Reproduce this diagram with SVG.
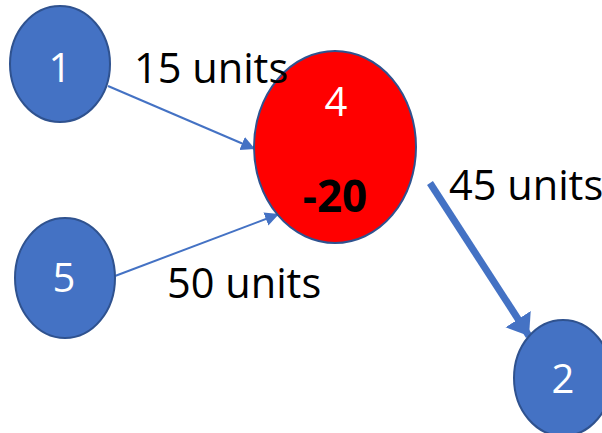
<svg xmlns="http://www.w3.org/2000/svg" width="602" height="433" viewBox="0 0 602 433">
<style>
.node{fill:#4472C4;stroke:#2F528F;stroke-width:2}
.red{fill:#FF0000;stroke:#2F528F;stroke-width:2}
.nl{font-family:"Open Sans","Liberation Sans",sans-serif;font-size:40px;fill:#fff;text-anchor:middle}
.lbl{font-family:"Open Sans","Liberation Sans",sans-serif;font-size:41.5px;fill:#000}
.thin{stroke:#4472C4;stroke-width:2;fill:none}
.thick{stroke:#4472C4;stroke-width:7;fill:none}
</style>
<defs>
<marker id="ah" markerUnits="userSpaceOnUse" markerWidth="16" markerHeight="16" refX="14" refY="7" orient="auto"><path d="M0,0 L14,7 L0,14 Z" fill="#4472C4"/></marker>
<marker id="ahb" markerUnits="userSpaceOnUse" markerWidth="24" markerHeight="34" refX="20" refY="15" orient="auto"><path d="M0,0 L20,15 L0,30 Z" fill="#4472C4"/></marker>
</defs>
<rect width="602" height="433" fill="#fff"/>
<g id="connectors">
<line class="thin" x1="108" y1="86" x2="255" y2="149" marker-end="url(#ah)"/>
<line class="thin" x1="115" y1="276" x2="279" y2="214" marker-end="url(#ah)"/>
<line class="thick" x1="430" y1="183" x2="529" y2="336" marker-end="url(#ahb)"/>
</g>
<g id="node1"><ellipse class="node" cx="60" cy="64" rx="50" ry="58"/><text class="nl" x="60" y="82">1</text></g>
<g id="node4"><ellipse class="red" cx="335" cy="147" rx="81" ry="96"/><text class="nl" x="336" y="116">4</text><text x="335" y="212" text-anchor="middle" font-family="Open Sans,Liberation Sans,sans-serif" font-size="44" font-weight="bold" fill="#000">-20</text></g>
<g id="node5"><ellipse class="node" cx="65" cy="278" rx="50" ry="60"/><text class="nl" x="64" y="292">5</text></g>
<g id="node2"><ellipse class="node" cx="563" cy="378" rx="49" ry="58"/><text class="nl" x="563" y="393">2</text></g>
<g id="labels">
<text class="lbl" x="134" y="83">15 units</text>
<text class="lbl" x="449" y="200">45 units</text>
<text class="lbl" x="167" y="298">50 units</text>
</g>
</svg>
